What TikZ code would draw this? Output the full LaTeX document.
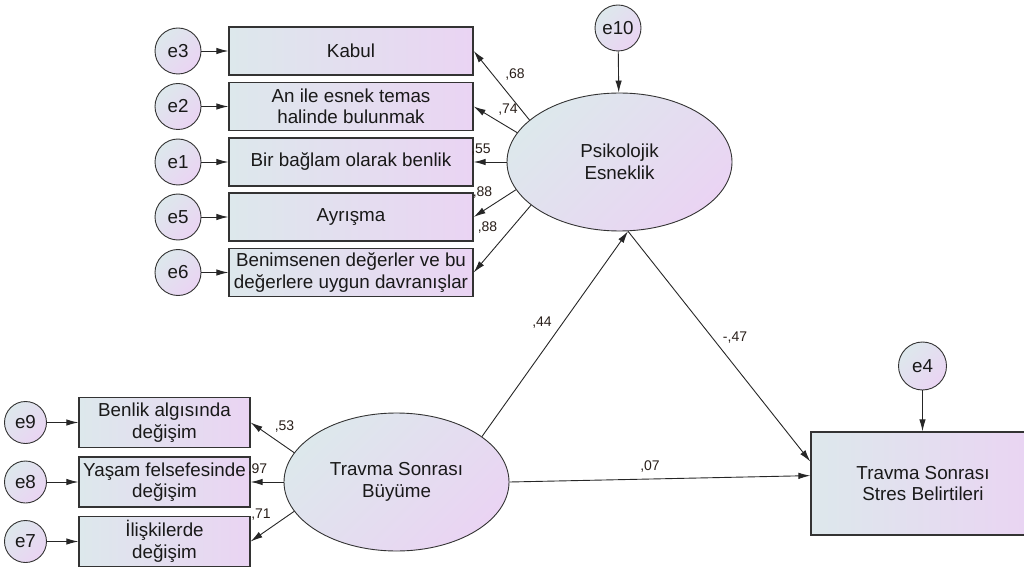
\documentclass[tikz,border=0pt]{standalone}
\usepackage{fontspec}
\setmainfont{Liberation Sans}
\usepackage{xcolor}
\usepackage{tikz}
\usetikzlibrary{arrows.meta,shapes.geometric}

\definecolor{amosgray}{RGB}{221,232,236}
\definecolor{amoslilac}{RGB}{234,212,243}
\definecolor{coefcol}{RGB}{40,30,25}

\begin{document}
\begin{tikzpicture}[x=1pt, y=-1pt,
    every node/.style={font=\fontsize{18.8}{21.5}\selectfont, text=black!90},
    obs/.style={draw=black!80, line width=1.3pt, rectangle, inner sep=0pt, align=center,
        left color=amosgray, right color=amoslilac},
    latent/.style={draw=black!80, line width=0.9pt, ellipse, inner sep=0pt, align=center,
        minimum width=225pt, minimum height=138pt,
        top color=amosgray, bottom color=amoslilac, shading angle=45},
    err/.style={draw=black!80, line width=0.9pt, circle, inner sep=0pt,
        top color=amosgray, bottom color=amoslilac, shading angle=45},
    path/.style={draw=black!85, line width=0.9pt, -{Latex[length=12pt,width=6.5pt]}},
    coef/.style={font=\fontsize{14}{16}\selectfont, text=coefcol, inner sep=0pt}]
    \useasboundingbox (0,0) rectangle (1024,569);

    % Latent variables
    \node[latent] (pe) at (619.5,162) {Psikolojik\\Esneklik};
    \node[latent] (tsb) at (396.5,482) {Travma Sonrası\\Büyüme};
    \node[obs, minimum width=224pt, minimum height=103pt] (tss) at (923,483.5) {Travma Sonrası\\Stres Belirtileri};

    % Indicators of psychological flexibility
    \node[obs, minimum width=244pt, minimum height=48pt] (kabul) at (351,51) {Kabul};
    \node[obs, minimum width=244pt, minimum height=48pt] (temas) at (351,106.5) {An ile esnek temas\\halinde bulunmak};
    \node[obs, minimum width=244pt, minimum height=48pt] (baglam) at (351,162) {Bir bağlam olarak benlik};
    \node[obs, minimum width=244pt, minimum height=48pt] (ayrisma) at (351,217) {Ayrışma};
    \node[obs, minimum width=244pt, minimum height=48pt] (deger) at (351,272.5) {Benimsenen değerler ve bu\\değerlere uygun davranışlar};

    % Indicators of growth
    \node[obs, minimum width=171pt, minimum height=50pt] (benlik) at (164.5,422.5) {Benlik algısında\\değişim};
    \node[obs, minimum width=171pt, minimum height=50pt] (yasam) at (164.5,482) {Yaşam felsefesinde\\değişim};
    \node[obs, minimum width=171pt, minimum height=50pt] (iliski) at (164.5,541.5) {İlişkilerde\\değişim};

    % Error terms
    \node[err, minimum size=46pt] (e3) at (178,51) {e3};
    \node[err, minimum size=46pt] (e2) at (178,106.5) {e2};
    \node[err, minimum size=46pt] (e1) at (178,162) {e1};
    \node[err, minimum size=46pt] (e5) at (178,217) {e5};
    \node[err, minimum size=46pt] (e6) at (178,272.5) {e6};
    \node[err, minimum size=42pt] (e9) at (25.5,422.5) {e9};
    \node[err, minimum size=42pt] (e8) at (25.5,482) {e8};
    \node[err, minimum size=42pt] (e7) at (25.5,541.5) {e7};
    \node[err, minimum size=46pt] (e10) at (618,28) {e10};
    \node[err, minimum size=48pt] (e4) at (922.5,366) {e4};

    % Error arrows
    \draw[path] (e3) -- (kabul);
    \draw[path] (e2) -- (temas);
    \draw[path] (e1) -- (baglam);
    \draw[path] (e5) -- (ayrisma);
    \draw[path] (e6) -- (deger);
    \draw[path] (e9) -- (benlik);
    \draw[path] (e8) -- (yasam);
    \draw[path] (e7) -- (iliski);
    \draw[path] (e10) -- (pe);
    \draw[path] (e4.south) -- (tss.north -| e4.south);

    % Loadings
    \draw[path] (pe.155) -- (kabul.east);
    \draw[path] (pe.164) -- (temas.east);
    \draw[path] (pe.west) -- (baglam.east);
    \draw[path] (pe.195) -- (ayrisma.east);
    \draw[path] (pe.206) -- (deger.east);
    \draw[path] (tsb.164) -- (benlik.east);
    \draw[path] (tsb.west) -- (yasam.east);
    \draw[path] (tsb.196) -- (iliski.east);

    % Structural paths
    \draw[path] (tsb.28) -- (pe.277);
    \draw[path] (pe.277) -- (tss.169);
    \draw[path] (tsb.east) -- (tss.176);

    % Coefficients
    \node[coef] (c68) at (515,75) {,68};
    \node[coef] (c74) at (508,110) {,74};
    \node[coef] (c55) at (481,150) {,55};
    \node[coef] (c88a) at (482.5,193) {,88};
    \node[coef] (c88b) at (487.5,228) {,88};
    \node[coef] (c53) at (284.5,427) {,53};
    \node[coef] (c97) at (257.5,470) {,97};
    \node[coef] (c71) at (261,515) {,71};
    \node[coef] (c44) at (542,323) {,44};
    \node[coef] (c47) at (735,338) {-,47};
    \node[coef] (c07) at (650,467) {,07};
\end{tikzpicture}
\end{document}
